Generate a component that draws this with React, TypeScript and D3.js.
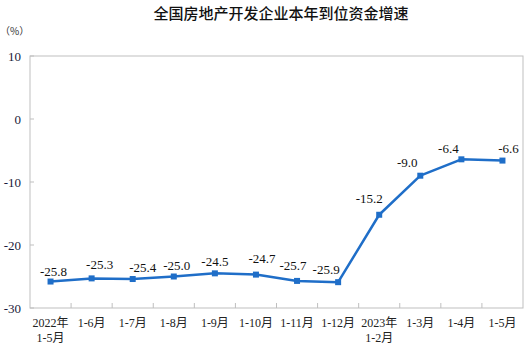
import React from "react";
import * as d3 from "d3";

const categories: string[][] = [
  ["2022年", "1-5月"],
  ["1-6月"],
  ["1-7月"],
  ["1-8月"],
  ["1-9月"],
  ["1-10月"],
  ["1-11月"],
  ["1-12月"],
  ["2023年", "1-2月"],
  ["1-3月"],
  ["1-4月"],
  ["1-5月"],
];
const values: number[] = [-25.8, -25.3, -25.4, -25.0, -24.5, -24.7, -25.7, -25.9, -15.2, -9.0, -6.4, -6.6];
const yTicks: number[] = [10, 0, -10, -20, -30];
const title = "全国房地产开发企业本年到位资金增速";
const unit = "（%）";

// label offsets (dx, dy) relative to points
const labelDx: number[] = [3, 8, 10, 3, 0, 6, -4, -12, -10, -13, -13, 6];
const labelDy: number[] = [-10, -14, -12, -11, -12, -16, -15, -13, -16, -13, -11, -12];

const W = 531, H = 356;
const left = 30, right = 523, top = 56, bottom = 308;
const serif = "'Liberation Serif', 'Times New Roman', 'Noto Sans CJK SC', serif";
const cjk = "'Noto Sans CJK SC', sans-serif";
const blue = "#1f6ec8";

export default function App() {
  const x = d3.scaleBand<number>().domain(d3.range(categories.length)).range([left, right]);
  const y = d3.scaleLinear().domain([-30, 10]).range([bottom, top]);
  const line = d3
    .line<number>()
    .x((_, i) => (x(i) as number) + x.bandwidth() / 2)
    .y((d) => y(d));
  const cx = (i: number) => (x(i) as number) + x.bandwidth() / 2;

  return (
    <svg
      width={W}
      height={H}
      style={{ position: "absolute", left: 0, top: 0, background: "#fff" }}
    >
      <text x={281} y={19} textAnchor="middle" fontFamily={cjk} fontSize={15} fontWeight={500} fill="#111">
        {title}
      </text>
      <text x={0} y={35} textAnchor="start" fontFamily={cjk} fontSize={10} fill="#333">
        {unit}
      </text>
      <rect x={left} y={top} width={right - left} height={bottom - top} fill="none" stroke="#bfbfbf" strokeWidth={1} />
      {yTicks.map((t) => (
        <g key={t}>
          <line x1={left} x2={left + 4} y1={y(t)} y2={y(t)} stroke="#bfbfbf" />
          <text
            x={21}
            y={y(t)}
            dy="0.35em"
            textAnchor="end"
            fontFamily={serif}
            fontSize={13}
            fill="#1a1a3a"
          >
            {t}
          </text>
        </g>
      ))}
      {categories.map((_, i) =>
        i > 0 ? (
          <line
            key={"t" + i}
            x1={x(i) as number}
            x2={x(i) as number}
            y1={bottom}
            y2={bottom - 5}
            stroke="#bfbfbf"
          />
        ) : null
      )}
      {categories.map((c, i) => (
        <text key={"c" + i} textAnchor="middle" fontFamily={serif} fontSize={12} fill="#222">
          {c.map((s, j) => (
            <tspan key={j} x={cx(i)} y={327 + j * 15}>
              {s}
            </tspan>
          ))}
        </text>
      ))}
      <path d={line(values) || ""} fill="none" stroke={blue} strokeWidth={2.5} strokeLinejoin="round" />
      {values.map((v, i) => (
        <rect key={"m" + i} x={cx(i) - 3} y={y(v) - 3} width={6} height={6} fill={blue} />
      ))}
      {values.map((v, i) => (
        <text
          key={"l" + i}
          x={cx(i) + labelDx[i]}
          y={y(v) + labelDy[i]}
          dy="0.35em"
          textAnchor="middle"
          fontFamily={serif}
          fontSize={13}
          fill="#111"
        >
          {v.toFixed(1)}
        </text>
      ))}
    </svg>
  );
}
